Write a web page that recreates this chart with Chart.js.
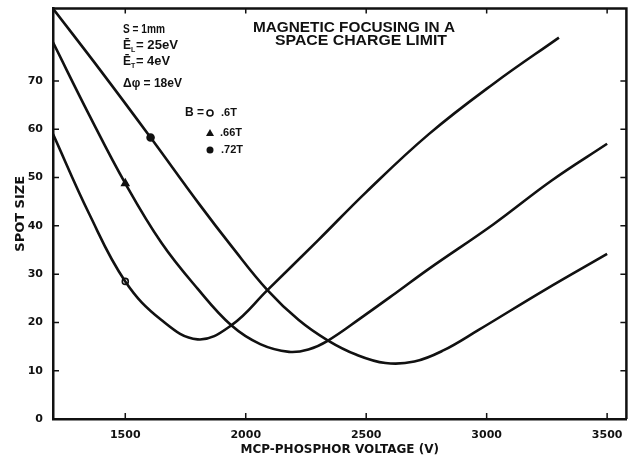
<!DOCTYPE html>
<html>
<head>
<meta charset="UTF-8">
<title>Magnetic focusing in a space charge limit</title>
<script src="https://cdn.jsdelivr.net/npm/chart.js"></script>
<style>
  body { margin: 0; background: #fff; }
  canvas { display: block; }
</style>
</head>
<body>
<canvas id="spotChart" width="632" height="457"></canvas>
<script>
// Werte
const xTicks = [1500, 2000, 2500, 3000, 3500];
const yTicks = [0, 10, 20, 30, 40, 50, 60, 70];

// B = .6T
const volt06 = [1200, 1350, 1500, 1650, 1800, 1940, 2090, 2300, 2500, 2760, 3030, 3300];
const spot06 = [59, 42.5, 28.5, 20.5, 16.5, 19.4, 26.7, 37, 47, 59, 69.5, 79];

// B = .66T
const volt066 = [1200, 1350, 1500, 1650, 1800, 1940, 2060, 2180, 2260, 2340, 2480, 2620, 2760, 3030, 3270, 3500];
const spot066 = [78, 63, 48.8, 36.5, 27, 19.4, 15.5, 13.9, 14.4, 16.2, 21, 26, 31.1, 40.4, 49.4, 57];

// B = .72T
const volt072 = [1200, 1400, 1605, 1807, 1944, 2090, 2220, 2340, 2460, 2580, 2700, 2820, 2965, 3240, 3500];
const spot072 = [85, 72, 58.3, 44.5, 35.6, 26.7, 20.5, 16.3, 13.3, 11.6, 11.9, 14.2, 18.4, 26.7, 34.2];

// Messpunkte (Symbole)
const markerVolt = [1500, 1500, 1605];
const markerSpot = [28.5, 48.8, 58.3];

function pts(xs, ys) {
    return xs.map((x, i) => ({ x: x, y: ys[i] }));
}

const lineStyle = {
    borderColor: '#111',
    borderWidth: 2.6,
    pointRadius: 0,
    fill: false,
    tension: 0.4
};

// Text auf eine bestimmte Breite strecken
function fitText(ctx, text, x, y, w) {
    const m = ctx.measureText(text).width;
    ctx.save();
    ctx.translate(x, y);
    ctx.scale(w / m, 1);
    ctx.fillText(text, 0, 0);
    ctx.restore();
}

// Rahmen oben/rechts + Ticks nach innen
const framePlugin = {
    id: 'frame',
    afterDatasetsDraw(chart) {
        const { ctx, chartArea: a, scales } = chart;
        ctx.save();
        ctx.strokeStyle = '#111';
        ctx.lineWidth = 2.5;
        ctx.beginPath();
        ctx.moveTo(a.left, a.top);
        ctx.lineTo(a.right, a.top);
        ctx.lineTo(a.right, a.bottom);
        ctx.stroke();
        ctx.lineWidth = 1.5;
        ctx.beginPath();
        xTicks.forEach(v => {
            const px = scales.x.getPixelForValue(v);
            ctx.moveTo(px, a.bottom); ctx.lineTo(px, a.bottom - 6);
            ctx.moveTo(px, a.top); ctx.lineTo(px, a.top + 5);
        });
        yTicks.forEach(v => {
            const py = scales.y.getPixelForValue(v);
            ctx.moveTo(a.left, py); ctx.lineTo(a.left + 6, py);
            ctx.moveTo(a.right, py); ctx.lineTo(a.right - 6, py);
        });
        ctx.stroke();
        ctx.restore();
    },
    afterDraw(chart) {
        const ctx = chart.ctx;
        ctx.save();
        ctx.fillStyle = '#111';
        ctx.textBaseline = 'middle';
        // Titel
        ctx.font = 'bold 14px "Liberation Sans"';
        fitText(ctx, 'MAGNETIC FOCUSING IN A', 253, 28, 202);
        fitText(ctx, 'SPACE CHARGE LIMIT', 275, 41, 172);
        // Parameter
        ctx.font = 'bold 12px "Liberation Sans"';
        fitText(ctx, 'S = 1mm', 123, 30, 42);
        ctx.fillText('\u0112', 123, 46);
        ctx.fillText('\u0112', 123, 62);
        ctx.font = 'bold 7px "Liberation Sans"';
        ctx.fillText('L', 131, 50);
        ctx.fillText('T', 131, 66);
        ctx.font = 'bold 12px "Liberation Sans"';
        fitText(ctx, '= 25eV', 136, 46, 42);
        fitText(ctx, '= 4eV', 136, 62, 34);
        fitText(ctx, '\u0394\u03c6 = 18eV', 123, 84, 59);
        // Legende
        ctx.fillText('B =', 185, 113);
        ctx.font = 'bold 11px "Liberation Sans"';
        ctx.fillText('.6T', 221, 113);
        ctx.fillText('.66T', 220, 133);
        ctx.fillText('.72T', 221, 150);
        ctx.lineWidth = 1.6;
        ctx.strokeStyle = '#111';
        ctx.beginPath();
        ctx.arc(210, 113, 3, 0, Math.PI * 2);
        ctx.stroke();
        ctx.beginPath();
        ctx.moveTo(210, 129); ctx.lineTo(214, 136); ctx.lineTo(206, 136);
        ctx.closePath();
        ctx.fill();
        ctx.beginPath();
        ctx.arc(210, 150, 3.5, 0, Math.PI * 2);
        ctx.fill();
        ctx.restore();
    }
};

new Chart(document.getElementById('spotChart'), {
    type: 'line',
    data: {
        datasets: [
            Object.assign({ label: '.6T', data: pts(volt06, spot06) }, lineStyle),
            Object.assign({ label: '.66T', data: pts(volt066, spot066) }, lineStyle),
            Object.assign({ label: '.72T', data: pts(volt072, spot072) }, lineStyle),
            {
                label: 'Messpunkte',
                data: pts(markerVolt, markerSpot),
                showLine: false,
                pointStyle: ['circle', 'triangle', 'circle'],
                pointRadius: [3, 4, 3.5],
                pointBackgroundColor: ['#fff', '#111', '#111'],
                pointBorderColor: '#111',
                pointBorderWidth: 1.6
            }
        ]
    },
    options: {
        responsive: false,
        animation: false,
        layout: { padding: { top: 6, right: 1, left: 0, bottom: 0 } },
        plugins: {
            legend: { display: false },
            tooltip: { enabled: false }
        },
        scales: {
            x: {
                type: 'linear',
                min: 1200,
                max: 3580,
                afterBuildTicks: s => { s.ticks = xTicks.map(v => ({ value: v })); },
                afterFit: s => { s.height = 38; },
                grid: { display: false },
                border: { display: true, color: '#111', width: 2.5 },
                ticks: {
                    color: '#111',
                    padding: 2,
                    maxRotation: 0,
                    callback: v => String(v),
                    font: { family: 'DejaVu Sans', weight: 'bold', size: 11 }
                },
                title: {
                    display: true,
                    text: 'MCP-PHOSPHOR VOLTAGE (V)',
                    color: '#111',
                    padding: { top: 5, bottom: 0 },
                    font: { family: 'DejaVu Sans', weight: 'bold', size: 12 }
                }
            },
            y: {
                min: 0,
                max: 85,
                afterBuildTicks: s => { s.ticks = yTicks.map(v => ({ value: v })); },
                afterFit: s => { s.width = 53; },
                grid: { display: false },
                border: { display: true, color: '#111', width: 2.5 },
                ticks: {
                    color: '#111',
                    padding: 2,
                    callback: v => String(v),
                    font: { family: 'DejaVu Sans', weight: 'bold', size: 11 }
                },
                title: {
                    display: true,
                    text: 'SPOT SIZE',
                    color: '#111',
                    padding: { top: 13, bottom: 0 },
                    font: { family: 'DejaVu Sans', weight: 'bold', size: 13 }
                }
            }
        }
    },
    plugins: [framePlugin]
});
</script>
</body>
</html>
